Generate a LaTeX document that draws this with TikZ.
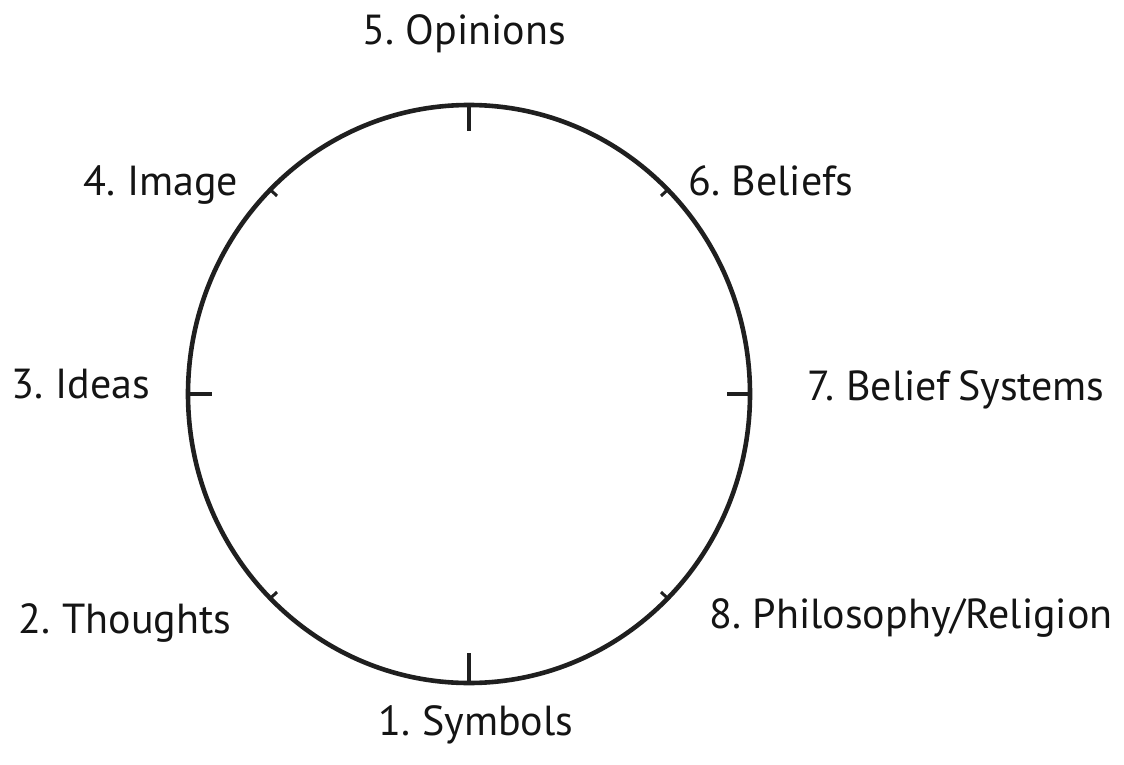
\documentclass[tikz,border=0pt]{standalone}
\usepackage{fontspec}
\setmainfont{PT Sans}[WordSpace=0.7]
\begin{document}
\begin{tikzpicture}[x=1pt,y=-1pt,
  ring/.style={line width=4.6pt,draw=black!88},
  bigtick/.style={line width=4.6pt,draw=black!88},
  smalltick/.style={line width=3pt,draw=black!88},
  lbl/.style={anchor=base,inner sep=0pt,font=\fontsize{42}{46}\selectfont,text=black!92}]
\useasboundingbox (0,0) rectangle (1124,765);
\coordinate (c) at (469,394);
\draw[ring] (c) ellipse [x radius=281, y radius=289];
% ticks
\coordinate (t5a) at (469,105); \coordinate (t5b) at (469,131);
\coordinate (t1a) at (469,683); \coordinate (t1b) at (469,653);
\coordinate (t3a) at (188,394); \coordinate (t3b) at (212,394);
\coordinate (t7a) at (750,394); \coordinate (t7b) at (727,394);
\draw[bigtick] (t5a) -- (t5b);
\draw[bigtick] (t1a) -- (t1b);
\draw[bigtick] (t3a) -- (t3b);
\draw[bigtick] (t7a) -- (t7b);
\coordinate (t4a) at (270.3,189.6); \coordinate (t4b) at (277,196);
\coordinate (t6a) at (667.7,189.6); \coordinate (t6b) at (661,196);
\coordinate (t2a) at (270.3,598.4); \coordinate (t2b) at (277,592);
\coordinate (t8a) at (667.7,598.4); \coordinate (t8b) at (661,592);
\draw[smalltick] (t4a) -- (t4b);
\draw[smalltick] (t6a) -- (t6b);
\draw[smalltick] (t2a) -- (t2b);
\draw[smalltick] (t8a) -- (t8b);
% labels
\node[lbl] (l5) at (464,45) {5. Opinions};
\node[lbl] (l4) at (161,195) {4. Image};
\node[lbl] (l6) at (771,195) {6. Beliefs};
\node[lbl] (l3) at (81,398) {3. Ideas};
\node[lbl] (l7) at (956,400) {7. Belief Systems};
\node[lbl] (l2) at (125,633) {2. Thoughts};
\node[lbl] (l8) at (911,628) {8. Philosophy/Religion};
\node[lbl] (l1) at (476,735) {1. Symbols};
\end{tikzpicture}
\end{document}
